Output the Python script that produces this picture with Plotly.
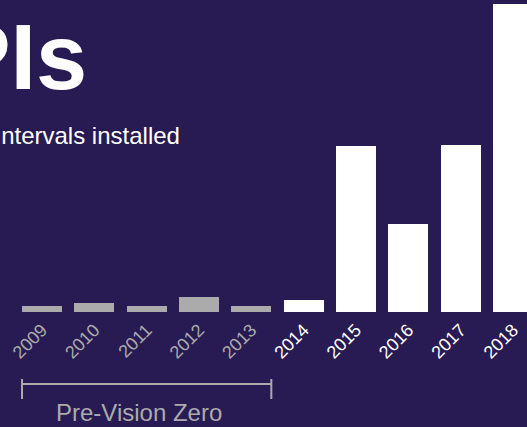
import plotly.graph_objects as go

# Leading pedestrian intervals installed per year
years = [2009, 2010, 2011, 2012, 2013, 2014, 2015, 2016, 2017, 2018]
lpis = [15, 25, 15, 39, 15, 33, 444, 236, 447, 822]
pre_vision_zero = [2009, 2010, 2011, 2012, 2013]

BG = "#281b53"
GREY = "#ababab"
WHITE = "#ffffff"
FONT = "Liberation Sans, Arial, Helvetica, sans-serif"

bar_colors = [GREY if y in pre_vision_zero else WHITE for y in years]
tick_text = [
    f"<span style='color:{GREY if y in pre_vision_zero else WHITE}'>{y}</span>"
    for y in years
]

W, H = 527, 427
PLOT_H = 312  # plot area height (baseline at 312 px from top)


def py(px):
    """Convert a pixel row (from the top) to paper y."""
    return (PLOT_H - px) / PLOT_H


fig = go.Figure(
    go.Bar(
        x=years,
        y=lpis,
        marker=dict(color=bar_colors, line=dict(width=0)),
        width=0.764,
        hoverinfo="x+y",
    )
)

half = 0.382
x_lo, x_hi = pre_vision_zero[0] - half, pre_vision_zero[-1] + half

fig.add_shape(type="line", xref="x", yref="paper", x0=x_lo, x1=x_hi,
              y0=py(384), y1=py(384), line=dict(color=GREY, width=2))
for xv in (x_lo, x_hi):
    fig.add_shape(type="line", xref="x", yref="paper", x0=xv, x1=xv,
                  y0=py(379), y1=py(399), line=dict(color=GREY, width=2))

fig.add_annotation(text="Pre-Vision Zero", xref="paper", yref="paper",
                   x=139 / W, y=py(427), xanchor="center", yanchor="bottom",
                   borderpad=0, showarrow=False,
                   font=dict(family=FONT, size=24, color=GREY))

fig.add_annotation(text="<b>LPIs</b>", xref="paper", yref="paper",
                   x=89 / W, y=py(57), xanchor="right", yanchor="middle",
                   showarrow=False, font=dict(family=FONT, size=92, color=WHITE))

fig.add_annotation(text="Leading pedestrian intervals installed", xref="paper",
                   yref="paper", x=182 / W, y=py(135), xanchor="right",
                   yanchor="middle", showarrow=False,
                   font=dict(family=FONT, size=24, color=WHITE))

fig.update_layout(
    width=W, height=H,
    margin=dict(l=0, r=0, t=0, b=H - PLOT_H, pad=0),
    paper_bgcolor=BG, plot_bgcolor=BG,
    showlegend=False,
    bargap=0,
    xaxis=dict(
        range=[2008.197, 2018.268],
        tickmode="array", tickvals=years, ticktext=tick_text,
        tickangle=-45, tickfont=dict(family=FONT, size=18, color=WHITE),
        ticklabelstandoff=3,
        showgrid=False, zeroline=False, showline=False, ticks="",
        fixedrange=True,
    ),
    yaxis=dict(range=[0, 833], visible=False, fixedrange=True),
)

fig.write_html("out.html")
